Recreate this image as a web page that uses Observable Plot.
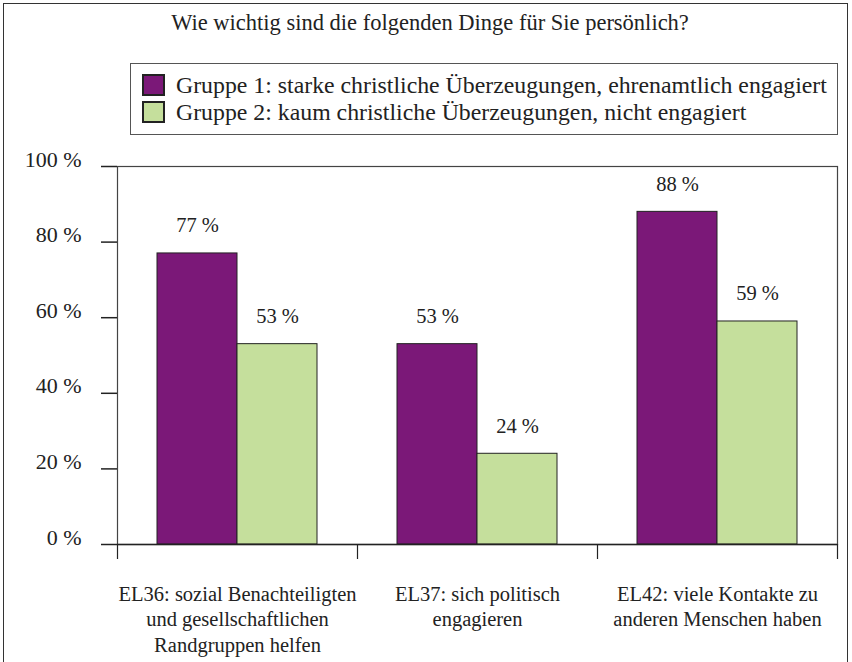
<!DOCTYPE html>
<html><head><meta charset="utf-8">
<script src="https://cdn.jsdelivr.net/npm/d3@7"></script>
<script src="https://cdn.jsdelivr.net/npm/@observablehq/plot@0.6"></script>
<style>
body{margin:0;background:#fff;font-family:"Liberation Serif","DejaVu Serif",serif;color:#222}
#wrap{position:relative;width:852px;height:662px;overflow:hidden}
#outer{position:absolute;left:3px;top:3px;width:843px;height:720px;border:1.5px solid #333}
#title{position:absolute;left:4px;width:852px;text-align:center;top:12.2px;font-size:22.5px;line-height:22.5px;white-space:nowrap}
#legend{position:absolute;left:130px;top:63px;width:708px;height:72px;border:1.5px solid #555;box-sizing:border-box}
.sw{position:absolute;width:23px;height:22px;border:2.5px solid #222;box-sizing:border-box}
.lt{position:absolute;font-size:23.8px;line-height:23.8px;white-space:nowrap}
#chart{position:absolute;left:0;top:150px}
</style></head>
<body><div id="wrap"><div id="outer"></div><div id="title"></div><div id="legend"></div><div id="chart"></div></div>
<script>
const titleText = "Wie wichtig sind die folgenden Dinge für Sie persönlich?";
const categories = [
  "EL36: sozial Benachteiligten\nund gesellschaftlichen\nRandgruppen helfen",
  "EL37: sich politisch\nengagieren",
  "EL42: viele Kontakte zu\nanderen Menschen haben"
];
const groups = [
  "Gruppe 1: starke christliche Überzeugungen, ehrenamtlich engagiert",
  "Gruppe 2: kaum christliche Überzeugungen, nicht engagiert"
];
const group1Values = [77, 53, 88];
const group2Values = [53, 24, 59];
const yTicks = [0, 20, 40, 60, 80, 100];
const colors = ["#7b1878", "#c5df9c"];

document.getElementById("title").textContent = titleText;
const legend = document.getElementById("legend");
groups.forEach((g, i) => {
  const sw = document.createElement("div");
  sw.className = "sw";
  sw.style.left = "10.8px";
  sw.style.top = (9.8 + i * 27) + "px";
  sw.style.background = colors[i];
  legend.appendChild(sw);
  const t = document.createElement("div");
  t.className = "lt";
  t.style.left = "45px";
  t.style.top = (10.3 + i * 26.6) + "px";
  t.textContent = g;
  legend.appendChild(t);
});

const rows = [];
categories.forEach((c, i) => {
  rows.push({category: c, group: groups[0], value: group1Values[i]});
  rows.push({category: c, group: groups[1], value: group2Values[i]});
});
const g1 = rows.filter(d => d.group === groups[0]);
const g2 = rows.filter(d => d.group === groups[1]);

const W = 852, ML = 117, MR = 15;
const bw = (W - ML - MR) / categories.length;
const fmt = d => d + " %";

const chart = Plot.plot({
  width: W, height: 512,
  marginLeft: ML, marginRight: MR, marginTop: 16, marginBottom: 118,
  style: {fontFamily: "'Liberation Serif', 'DejaVu Serif', serif", fontSize: "20.5px", color: "#222", background: "transparent", overflow: "visible"},
  x: {domain: categories, padding: 0, axis: null},
  y: {domain: [0, 100], axis: null},
  color: {domain: groups, range: colors},
  marks: [
    Plot.frame({stroke: "#444", strokeWidth: 1.2}),
    Plot.barY(g1, {x: "category", y: "value", fill: "group", stroke: "#222", strokeWidth: 1, insetLeft: bw / 6, insetRight: bw / 2}),
    Plot.barY(g2, {x: "category", y: "value", fill: "group", stroke: "#222", strokeWidth: 1, insetLeft: bw / 2, insetRight: bw / 6}),
    Plot.text(g1, {x: "category", y: "value", text: d => fmt(d.value), dx: -bw / 6, dy: -21, lineAnchor: "bottom", fill: "#222"}),
    Plot.text(g2, {x: "category", y: "value", text: d => fmt(d.value), dx: bw / 6, dy: -21, lineAnchor: "bottom", fill: "#222"}),
    Plot.ruleY([0], {stroke: "#222", strokeWidth: 1.5}),
    Plot.ruleX(categories, {x: d => d, dx: -bw / 2, y1: 0, y2: 0, insetBottom: -15, stroke: "#222", strokeWidth: 1.2}),
    Plot.ruleX([categories[categories.length - 1]], {x: d => d, dx: bw / 2, y1: 0, y2: 0, insetBottom: -15, stroke: "#222", strokeWidth: 1.2}),
    Plot.axisY({ticks: yTicks, tickSize: 16, tickPadding: 20, tickFormat: fmt, lineAnchor: "bottom", label: null, fontSize: 22, stroke: "#222", strokeWidth: 1.5, fill: "#222"}),
    Plot.axisX({tickSize: 0, tickPadding: 38, lineAnchor: "top", lineHeight: 1.244, label: null, fill: "#222"})
  ]
});
document.getElementById("chart").appendChild(chart);
</script>
</body></html>
